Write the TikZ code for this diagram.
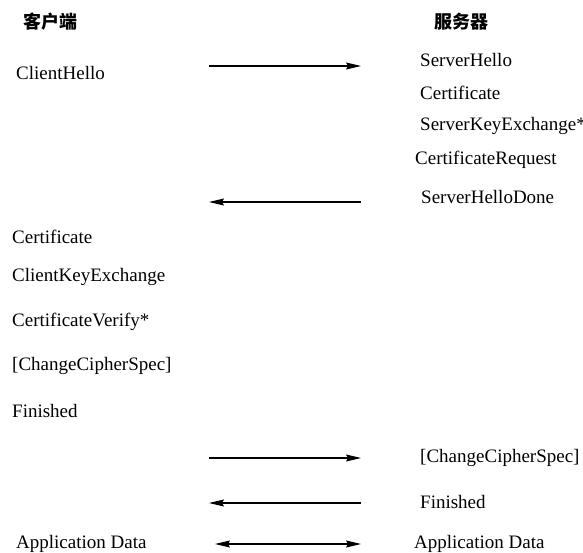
\documentclass[tikz,border=0pt]{standalone}
\usepackage{fontspec}
\setmainfont{Liberation Serif}
\newfontfamily\cjk{Noto Sans CJK SC}
\usetikzlibrary{arrows.meta}
\begin{document}
\begin{tikzpicture}[x=1pt,y=-1pt,
  msg/.style={anchor=west,inner sep=0pt,font=\fontsize{19}{21}\selectfont},
  head/.style={inner sep=0pt,font=\cjk\bfseries\fontsize{18}{20}\selectfont},
  tip/.tip={Stealth[length=15pt,width=7pt,inset=2pt]},
  flow/.style={line width=1.1pt,-tip},
  flowboth/.style={line width=1.1pt,tip-tip}]
\useasboundingbox (0,0) rectangle (583,553);

% column headings
\node[head] (client) at (50,22) {客户端};
\node[head] (server) at (461,22) {服务器};

% client messages
\node[msg] (chello) at (16,73) {ClientHello};
\node[msg] (ccert) at (12,237) {Certificate};
\node[msg] (ckey) at (12,277) {ClientKeyExchange};
\node[msg] (cverify) at (12,322) {CertificateVerify*};
\node[msg] (cccs) at (12,366) {[ChangeCipherSpec]};
\node[msg] (cfin) at (12,411) {Finished};
\node[msg] (cdata) at (16,544) {Application Data};

% server messages
\node[msg] (shello) at (420,60) {ServerHello};
\node[msg] (scert) at (420,93) {Certificate};
\node[msg] (skey) at (420,126) {ServerKeyExchange*};
\node[msg] (sreq) at (415,160) {CertificateRequest};
\node[msg] (sdone) at (421,197) {ServerHelloDone};
\node[msg] (sccs) at (420,458) {[ChangeCipherSpec]};
\node[msg] (sfin) at (420,502) {Finished};
\node[msg] (sdata) at (414,544) {Application Data};

% arrow end points
\coordinate (a1l) at (209,66);  \coordinate (a1r) at (361,66);
\coordinate (a2l) at (209,202); \coordinate (a2r) at (361,202);
\coordinate (a3l) at (209,458); \coordinate (a3r) at (361,458);
\coordinate (a4l) at (209,503); \coordinate (a4r) at (361,503);
\coordinate (a5l) at (215,544); \coordinate (a5r) at (361,544);

\draw[flow] (a1l) -- (a1r);
\draw[flow] (a2r) -- (a2l);
\draw[flow] (a3l) -- (a3r);
\draw[flow] (a4r) -- (a4l);
\draw[flowboth] (a5l) -- (a5r);
\end{tikzpicture}
\end{document}
